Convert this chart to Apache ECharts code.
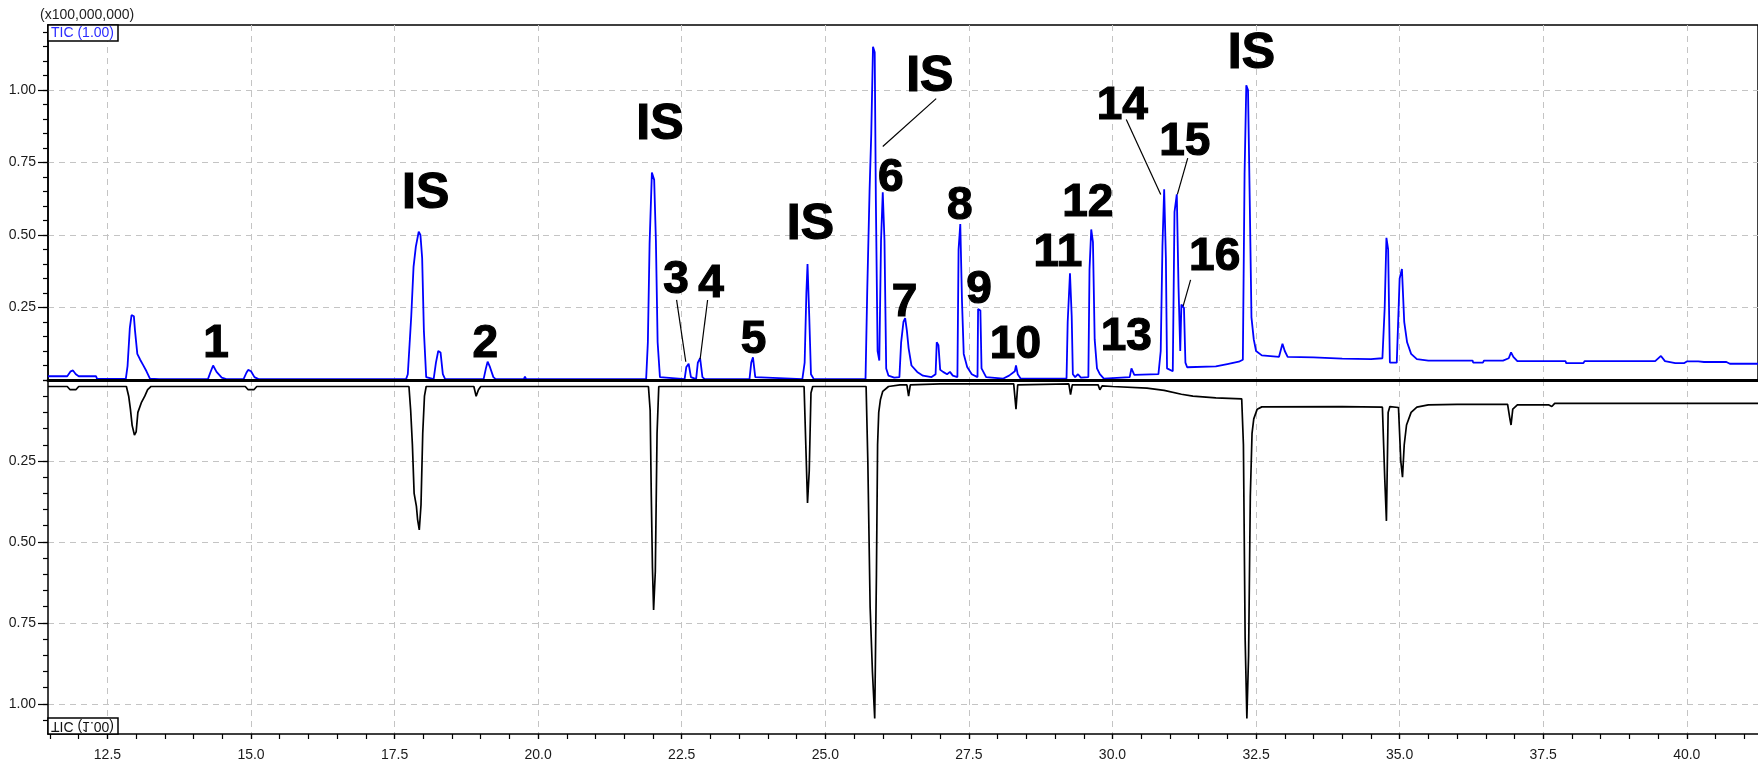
<!DOCTYPE html>
<html><head><meta charset="utf-8">
<script src="https://cdn.jsdelivr.net/npm/echarts@6/dist/echarts.min.js"></script>
<style>html,body{margin:0;padding:0;background:#fff}#c{width:1758px;height:769px}</style>
</head><body><div id="c"></div>
<script>
// ---------- data ----------
const xMajorTicks = [12.5, 15.0, 17.5, 20.0, 22.5, 25.0, 27.5, 30.0, 32.5, 35.0, 37.5, 40.0];
const yMajorTicks = [0.25, 0.50, 0.75, 1.00];
const scaleText = '(x100,000,000)';
const ticText = 'TIC (1.00)';
const timeRange = [11.465, 41.24];

// upper (blue) TIC trace: [time (min), intensity (x1e8)]
const sampleTrace = [
 [11.465,0.013],[11.8,0.013],[11.86,0.03],[11.9,0.033],[11.95,0.02],[12.0,0.013],[12.3,0.013],[12.32,0.004],
 [12.82,0.004],[12.85,0.048],[12.89,0.18],[12.92,0.224],[12.96,0.22],[12.98,0.17],[13.02,0.09],[13.07,0.07],
 [13.12,0.052],[13.18,0.03],[13.24,0.005],[13.4,0.003],[14.25,0.003],[14.29,0.025],[14.34,0.05],[14.40,0.028],
 [14.49,0.008],[14.57,0.003],[14.87,0.003],[14.92,0.025],[14.95,0.035],[15.0,0.03],[15.06,0.01],[15.13,0.003],
 [17.7,0.003],[17.73,0.02],[17.79,0.22],[17.83,0.39],[17.87,0.46],[17.92,0.511],[17.95,0.50],[17.98,0.42],
 [18.01,0.17],[18.05,0.01],[18.18,0.003],[18.22,0.06],[18.26,0.10],[18.3,0.095],[18.34,0.02],[18.38,0.003],
 [19.05,0.003],[19.09,0.04],[19.12,0.063],[19.16,0.045],[19.22,0.01],[19.26,0.003],[19.75,0.003],[19.77,0.012],
 [19.79,0.003],[21.88,0.003],[21.91,0.13],[21.94,0.47],[21.98,0.715],[22.02,0.69],[22.05,0.48],[22.08,0.13],
 [22.12,0.01],[22.55,0.003],[22.58,0.045],[22.62,0.056],[22.66,0.01],[22.75,0.003],[22.78,0.06],[22.82,0.075],
 [22.86,0.01],[22.9,0.003],[23.68,0.003],[23.71,0.06],[23.74,0.078],[23.78,0.01],[24.6,0.003],[24.64,0.06],
 [24.67,0.30],[24.69,0.40],[24.72,0.22],[24.75,0.02],[24.8,0.003],[25.7,0.003],[25.73,0.31],[25.77,0.65],
 [25.80,0.85],[25.83,1.149],[25.86,1.13],[25.88,0.62],[25.91,0.10],[25.94,0.067],[25.97,0.48],[26.0,0.647],
 [26.03,0.48],[26.06,0.04],[26.1,0.015],[26.2,0.008],[26.29,0.01],[26.32,0.13],[26.36,0.2],[26.39,0.213],
 [26.42,0.17],[26.45,0.11],[26.5,0.05],[26.6,0.028],[26.7,0.015],[26.85,0.01],[26.92,0.02],[26.94,0.13],
 [26.97,0.12],[27.0,0.035],[27.05,0.028],[27.12,0.02],[27.17,0.028],[27.22,0.015],[27.3,0.01],[27.32,0.45],
 [27.35,0.538],[27.38,0.27],[27.41,0.09],[27.47,0.045],[27.55,0.02],[27.65,0.01],[27.66,0.245],[27.7,0.24],
 [27.72,0.04],[27.8,0.01],[28.1,0.005],[28.2,0.015],[28.3,0.03],[28.32,0.05],[28.35,0.02],[28.4,0.005],
 [29.2,0.005],[29.22,0.2],[29.26,0.368],[29.29,0.22],[29.31,0.02],[29.35,0.01],[29.4,0.02],[29.45,0.008],
 [29.58,0.01],[29.6,0.38],[29.63,0.519],[29.66,0.475],[29.69,0.14],[29.73,0.04],[29.78,0.02],[29.85,0.005],
 [30.3,0.01],[30.33,0.04],[30.38,0.018],[30.8,0.02],[30.84,0.1],[30.87,0.46],[30.9,0.658],[30.93,0.42],
 [30.95,0.04],[31.05,0.03],[31.08,0.58],[31.12,0.64],[31.15,0.32],[31.18,0.10],[31.2,0.26],[31.245,0.248],
 [31.27,0.06],[31.3,0.044],[31.8,0.047],[32.0,0.055],[32.2,0.063],[32.27,0.07],[32.3,0.71],[32.33,1.016],
 [32.36,1.0],[32.39,0.62],[32.42,0.216],[32.46,0.14],[32.5,0.1],[32.6,0.085],[32.9,0.08],[32.96,0.125],
 [33.0,0.1],[33.05,0.08],[33.5,0.078],[34.0,0.074],[34.5,0.072],[34.7,0.075],[34.74,0.25],[34.77,0.49],
 [34.8,0.45],[34.83,0.06],[34.95,0.06],[35.0,0.35],[35.04,0.383],[35.08,0.2],[35.13,0.13],[35.2,0.09],
 [35.3,0.072],[35.5,0.067],[36.27,0.067],[36.28,0.06],[36.45,0.06],[36.47,0.067],[36.8,0.067],[36.9,0.075],
 [36.94,0.095],[36.98,0.08],[37.05,0.065],[37.89,0.065],[37.9,0.058],[38.2,0.058],[38.22,0.065],[39.45,0.065],
 [39.55,0.083],[39.62,0.065],[39.8,0.058],[39.95,0.058],[40.0,0.064],[40.2,0.064],[40.3,0.062],[40.69,0.062],
 [40.75,0.056],[41.24,0.056]
];

// lower (black, mirrored) TIC trace: [time (min), intensity (x1e8)]
const referenceTrace = [
 [11.465,0.02],[11.8,0.02],[11.85,0.03],[11.95,0.03],[12.0,0.02],[12.83,0.02],[12.87,0.05],[12.9,0.09],
 [12.93,0.14],[12.97,0.17],[13.0,0.16],[13.03,0.10],[13.09,0.07],[13.15,0.05],[13.2,0.03],[13.26,0.02],
 [14.9,0.02],[14.95,0.03],[15.05,0.03],[15.1,0.02],[17.75,0.02],[17.78,0.094],[17.81,0.2],[17.84,0.35],
 [17.88,0.39],[17.9,0.43],[17.93,0.463],[17.96,0.385],[17.99,0.165],[18.02,0.05],[18.05,0.02],[18.88,0.02],
 [18.92,0.05],[18.96,0.03],[19.0,0.02],[21.92,0.02],[21.95,0.094],[21.97,0.36],[21.99,0.58],[22.01,0.71],
 [22.04,0.59],[22.07,0.165],[22.1,0.02],[24.63,0.02],[24.66,0.2],[24.69,0.38],[24.72,0.28],[24.75,0.04],
 [24.78,0.02],[25.71,0.02],[25.74,0.25],[25.78,0.7],[25.82,0.9],[25.86,1.045],[25.89,0.6],[25.91,0.2],
 [25.93,0.1],[25.96,0.06],[26.0,0.035],[26.1,0.02],[26.3,0.015],[26.42,0.015],[26.45,0.05],[26.48,0.015],
 [27.0,0.012],[28.28,0.012],[28.32,0.09],[28.35,0.015],[29.24,0.012],[29.27,0.045],[29.3,0.015],[29.75,0.015],
 [29.78,0.03],[29.82,0.018],[30.0,0.02],[30.6,0.025],[30.9,0.032],[31.2,0.044],[31.4,0.05],[31.8,0.055],
 [32.25,0.058],[32.28,0.2],[32.31,0.8],[32.34,1.045],[32.37,0.85],[32.4,0.36],[32.43,0.165],[32.46,0.12],
 [32.52,0.09],[32.6,0.083],[34.0,0.082],[34.7,0.084],[34.74,0.3],[34.77,0.435],[34.8,0.1],[34.83,0.082],
 [34.98,0.085],[35.02,0.25],[35.05,0.30],[35.08,0.2],[35.12,0.139],[35.2,0.1],[35.3,0.084],[35.5,0.077],
 [36.0,0.075],[36.88,0.075],[36.92,0.12],[36.94,0.139],[36.97,0.09],[37.05,0.077],[37.6,0.077],[37.65,0.082],
 [37.7,0.072],[39.0,0.072],[40.7,0.072],[40.73,0.076],[40.78,0.072],[41.24,0.072]
];

// peak annotations: [text, time, intensity]
const peakLabels = [
 ['IS',18.04,0.64],['IS',22.12,0.878],['IS',24.74,0.533],['IS',26.82,1.045],['IS',32.42,1.124],
 ['1',14.39,0.122],['2',19.08,0.122],['3',22.40,0.345],['4',23.01,0.33],['5',23.75,0.138],
 ['6',26.14,0.694],['7',26.38,0.263],['8',27.34,0.60],['9',27.675,0.31],['10',28.31,0.119],
 ['11',29.05,0.436],['12',29.57,0.608],['13',30.24,0.146],['14',30.17,0.945],['15',31.26,0.82],['16',31.78,0.423]
];
// leader lines: [t1, v1, t2, v2]
const leaderLines = [
 [26.93,0.97,26.0,0.805],[22.41,0.276,22.57,0.063],[22.95,0.276,22.82,0.072],
 [30.24,0.898,30.84,0.64],[31.31,0.765,31.13,0.64],[31.36,0.345,31.23,0.255]
];

// ---------- chart ----------
const topMax = 1.224, botMax = 1.093;
const xMinor = []; for (let v = 11.5; v <= 41.0001; v += 0.5) xMinor.push(+v.toFixed(2));
const yMinorTop = []; for (let v = 0; v <= 1.2001; v += 0.05) yMinorTop.push(+v.toFixed(2));
const yMinorBot = []; for (let v = 0; v <= 1.0501; v += 0.05) yMinorBot.push(+v.toFixed(2));

const FONT = 'Liberation Sans, Arial, sans-serif';
const gridLine = {show:true, lineStyle:{color:'#c4c4c4', width:1, type:[6,5]}};
const axLabel = {fontSize:14, color:'#1a1a1a', fontFamily:FONT};

const chart = echarts.init(document.getElementById('c'), null, {renderer:'canvas'});
chart.setOption({
  animation:false,
  backgroundColor:'#fff',
  grid:[
    {left:48, width:1712, top:25, height:355, show:true, borderColor:'#000', borderWidth:1.5, backgroundColor:'transparent'},
    {left:48, width:1712, top:380, height:354}
  ],
  xAxis:[
    {gridIndex:0, type:'value', min:timeRange[0], max:timeRange[1], position:'bottom', z:5,
     axisLine:{show:true, onZero:false, lineStyle:{color:'#000', width:3}},
     axisTick:{show:false}, axisLabel:{show:false}, splitLine:{show:false}},
    {gridIndex:0, type:'value', min:timeRange[0], max:timeRange[1], position:'bottom',
     axisLine:{show:false, onZero:false}, axisTick:{show:false, customValues:xMajorTicks},
     axisLabel:{show:false, customValues:xMajorTicks}, splitLine:gridLine},
    {gridIndex:1, type:'value', min:timeRange[0], max:timeRange[1], position:'bottom',
     axisLine:{show:true, onZero:false, lineStyle:{color:'#000', width:1.5}},
     axisTick:{show:true, length:5, customValues:xMajorTicks, lineStyle:{color:'#000', width:1.2}},
     axisLabel:Object.assign({customValues:xMajorTicks, margin:14, formatter:v=>v.toFixed(1)}, axLabel),
     splitLine:gridLine},
    {gridIndex:1, type:'value', min:timeRange[0], max:timeRange[1], position:'bottom',
     axisLine:{show:false, onZero:false},
     axisTick:{show:true, length:5, customValues:xMinor, lineStyle:{color:'#000', width:1.2}},
     axisLabel:{show:false}, splitLine:{show:false}}
  ],
  yAxis:[
    {gridIndex:0, type:'value', min:0, max:topMax, position:'left',
     axisLine:{show:true, onZero:false, lineStyle:{color:'#000', width:1.5}},
     axisTick:{show:true, length:10, customValues:yMajorTicks, lineStyle:{color:'#000', width:1.2}},
     axisLabel:Object.assign({customValues:yMajorTicks, margin:12, formatter:v=>v.toFixed(2)}, axLabel),
     splitLine:gridLine},
    {gridIndex:0, type:'value', min:0, max:topMax, position:'left',
     axisLine:{show:false, onZero:false},
     axisTick:{show:true, length:5, customValues:yMinorTop, lineStyle:{color:'#000', width:1.2}},
     axisLabel:{show:false}, splitLine:{show:false}},
    {gridIndex:1, type:'value', min:0, max:botMax, inverse:true, position:'left',
     axisLine:{show:true, onZero:false, lineStyle:{color:'#000', width:1.5}},
     axisTick:{show:true, length:10, customValues:yMajorTicks, lineStyle:{color:'#000', width:1.2}},
     axisLabel:Object.assign({customValues:yMajorTicks, margin:12, formatter:v=>v.toFixed(2)}, axLabel),
     splitLine:gridLine},
    {gridIndex:1, type:'value', min:0, max:botMax, inverse:true, position:'left',
     axisLine:{show:false, onZero:false},
     axisTick:{show:true, length:5, customValues:yMinorBot, lineStyle:{color:'#000', width:1.2}},
     axisLabel:{show:false}, splitLine:{show:false}}
  ],
  series:[
    {type:'line', name:'sample', xAxisIndex:0, yAxisIndex:0, data:sampleTrace, showSymbol:false,
     lineStyle:{color:'#0000ff', width:1.8}, z:2},
    {type:'line', name:'reference', xAxisIndex:2, yAxisIndex:2, data:referenceTrace, showSymbol:false,
     lineStyle:{color:'#000', width:1.7}, z:2},
    {type:'scatter', name:'labels', xAxisIndex:0, yAxisIndex:0, z:4, symbolSize:1,
     itemStyle:{color:'rgba(0,0,0,0)'},
     data:peakLabels.map(p=>({name:p[0], value:[p[1],p[2]],
       label:{fontSize: p[0]==='IS'?50:46}})),
     label:{show:true, position:'inside', formatter:'{b}', color:'#000000', opacity:1,
       fontWeight:'bold', fontFamily:FONT, textBorderColor:'#000000', textBorderWidth:1.2},
     markLine:{silent:true, symbol:['none','none'], label:{show:false},
       lineStyle:{color:'#000', width:1.2, type:'solid', opacity:1},
       data:leaderLines.map(l=>[{coord:[l[0],l[1]]},{coord:[l[2],l[3]]}])}
    }
  ],
  graphic:[
    {type:'text', x:40, y:8, style:{text:scaleText, font:'14px '+FONT, fill:'#222'}},
    {type:'rect', shape:{x:48, y:25, width:70, height:16}, style:{fill:'#fff', stroke:'#000', lineWidth:1.5}, z:10},
    {type:'text', x:51, y:26, z:11, style:{text:ticText, font:'14px '+FONT, fill:'#2b2bff'}},
    {type:'rect', shape:{x:48, y:718, width:70, height:16}, style:{fill:'#fff', stroke:'#000', lineWidth:1.5}, z:10},
    {type:'text', x:51, y:733, scaleY:-1, z:11, style:{text:ticText, font:'14px '+FONT, fill:'#111'}}
  ]
});
</script></body></html>
